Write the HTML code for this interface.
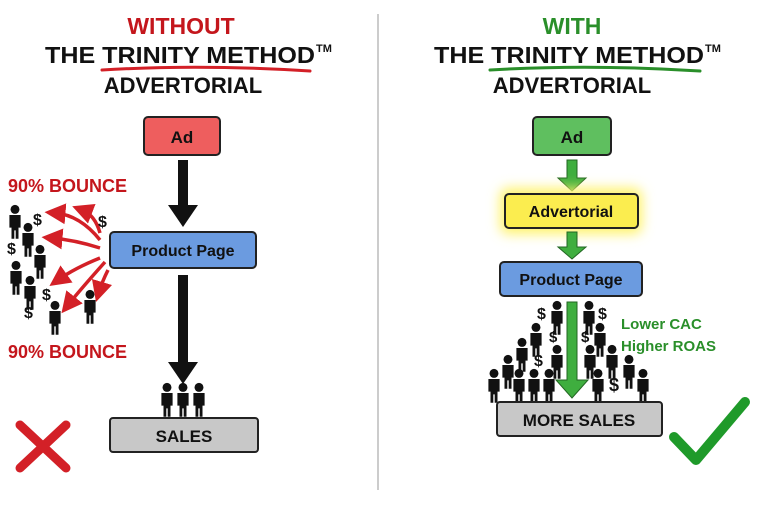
<!DOCTYPE html>
<html><head><style>
html,body{margin:0;padding:0;background:#fff;}
svg{display:block;}
text{font-family:"Liberation Sans",sans-serif;font-weight:bold;}
</style></head><body>
<svg width="768" height="512" viewBox="0 0 768 512" xmlns="http://www.w3.org/2000/svg">
<defs>
<g id="p" transform="scale(1.4)"><circle cx="0" cy="-9" r="3.2" fill="#111"/><path d="M-4,-5 h8 v9 h-1.5 v8 h-2 v-6 h-1 v6 h-2 v-8 h-1.5z" fill="#111"/></g>
<filter id="glow" x="-30%" y="-60%" width="160%" height="220%"><feGaussianBlur stdDeviation="6"/></filter>
<marker id="ra" markerWidth="6" markerHeight="6" refX="3" refY="3" orient="auto"><path d="M0,0 L6,3 L0,6z" fill="#d32027"/></marker>
</defs>
<rect width="768" height="512" fill="#fff"/>
<line x1="378" y1="14" x2="378" y2="490" stroke="#bbb" stroke-width="1.5"/>

<!-- LEFT -->
<text x="181" y="34" font-size="23" fill="#c4161c" text-anchor="middle">WITHOUT</text>
<text x="180" y="63" font-size="23" fill="#111" text-anchor="middle" textLength="270" lengthAdjust="spacingAndGlyphs">THE TRINITY METHOD</text>
<text x="316" y="52" font-size="11" fill="#111">TM</text>
<path d="M102,70 Q200,64 310,71" stroke="#d32027" stroke-width="3" fill="none" stroke-linecap="round"/>
<text x="183" y="93" font-size="22" fill="#111" text-anchor="middle">ADVERTORIAL</text>

<rect x="144" y="117" width="76" height="38" rx="4" fill="#ee5e5e" stroke="#222" stroke-width="2"/>
<text x="182" y="143" font-size="17" fill="#111" text-anchor="middle">Ad</text>
<rect x="178" y="160" width="10" height="50" fill="#111"/>
<path d="M168,205 L198,205 L183,227z" fill="#111"/>
<rect x="110" y="232" width="146" height="36" rx="4" fill="#6b9be0" stroke="#222" stroke-width="2"/>
<text x="183" y="256" font-size="16" fill="#111" text-anchor="middle">Product Page</text>
<rect x="178" y="275" width="10" height="90" fill="#111"/>
<path d="M168,362 L198,362 L183,384z" fill="#111"/>
<use href="#p" x="167" y="400"/><use href="#p" x="183" y="400"/><use href="#p" x="199" y="400"/>
<rect x="110" y="418" width="148" height="34" rx="3" fill="#c8c8c8" stroke="#222" stroke-width="2"/>
<text x="184" y="442" font-size="17" fill="#111" text-anchor="middle">SALES</text>
<path d="M20,425 L66,468 M66,425 L20,468" stroke="#d32027" stroke-width="9" stroke-linecap="round"/>

<text x="8" y="192" font-size="18" fill="#c4161c">90% BOUNCE</text>
<text x="8" y="358" font-size="18" fill="#c4161c">90% BOUNCE</text>
<g stroke="#d32027" stroke-width="3.5" fill="none" marker-end="url(#ra)">
<path d="M100,240 Q80,215 55,213"/>
<path d="M100,233 Q95,215 82,210"/>
<path d="M100,248 Q75,240 52,238"/>
<path d="M100,258 Q75,268 58,280"/>
<path d="M105,262 Q80,290 68,305"/>
<path d="M108,270 Q102,282 99,292"/>
</g>
<use href="#p" x="15" y="222"/><use href="#p" x="28" y="240"/><use href="#p" x="40" y="262"/>
<use href="#p" x="16" y="278"/><use href="#p" x="30" y="293"/><use href="#p" x="55" y="318"/>
<use href="#p" x="90" y="307"/>
<text x="33" y="225" font-size="16" fill="#111">$</text>
<text x="98" y="227" font-size="16" fill="#111">$</text>
<text x="7" y="254" font-size="16" fill="#111">$</text>
<text x="42" y="300" font-size="16" fill="#111">$</text>
<text x="24" y="318" font-size="16" fill="#111">$</text>

<!-- RIGHT -->
<text x="572" y="34" font-size="23" fill="#2a8f2a" text-anchor="middle">WITH</text>
<text x="569" y="63" font-size="23" fill="#111" text-anchor="middle" textLength="270" lengthAdjust="spacingAndGlyphs">THE TRINITY METHOD</text>
<text x="705" y="52" font-size="11" fill="#111">TM</text>
<path d="M490,70 Q590,64 700,71" stroke="#2a8f2a" stroke-width="3" fill="none" stroke-linecap="round"/>
<text x="572" y="93" font-size="22" fill="#111" text-anchor="middle">ADVERTORIAL</text>

<rect x="533" y="117" width="78" height="38" rx="4" fill="#5fbf5f" stroke="#222" stroke-width="2"/>
<text x="572" y="143" font-size="17" fill="#111" text-anchor="middle">Ad</text>
<path d="M567,160 h10 v18 h9 l-14,13 l-14,-13 h9z" fill="#3fae3f" stroke="#226622" stroke-width="1"/>
<rect x="500" y="188" width="142" height="46" rx="8" fill="#fff36a" filter="url(#glow)"/>
<rect x="505" y="194" width="133" height="34" rx="4" fill="#fbed4f" stroke="#222" stroke-width="2"/>
<text x="571" y="217" font-size="16" fill="#111" text-anchor="middle">Advertorial</text>
<path d="M567,232 h10 v15 h9 l-14,12 l-14,-12 h9z" fill="#3fae3f" stroke="#226622" stroke-width="1"/>
<rect x="500" y="262" width="142" height="34" rx="4" fill="#6b9be0" stroke="#222" stroke-width="2"/>
<text x="571" y="285" font-size="16" fill="#111" text-anchor="middle">Product Page</text>
<path d="M567,302 h10 v78 h11 l-16,18 l-16,-18 h11z" fill="#3fae3f" stroke="#226622" stroke-width="1"/>
<use href="#p" x="557" y="318"/><use href="#p" x="589" y="318"/><use href="#p" x="536" y="340"/>
<use href="#p" x="600" y="340"/><use href="#p" x="522" y="355"/><use href="#p" x="557" y="362"/>
<use href="#p" x="590" y="362"/><use href="#p" x="612" y="362"/><use href="#p" x="508" y="372"/>
<use href="#p" x="629" y="372"/><use href="#p" x="494" y="386"/><use href="#p" x="519" y="386"/>
<use href="#p" x="534" y="386"/><use href="#p" x="549" y="386"/><use href="#p" x="598" y="386"/>
<use href="#p" x="643" y="386"/>
<text x="537" y="319" font-size="16" fill="#111">$</text>
<text x="598" y="319" font-size="16" fill="#111">$</text>
<text x="549" y="342" font-size="15" fill="#111">$</text>
<text x="581" y="342" font-size="15" fill="#111">$</text>
<text x="534" y="366" font-size="16" fill="#111">$</text>
<text x="609" y="391" font-size="18" fill="#111">$</text>
<text x="621" y="329" font-size="15" fill="#2a8f2a">Lower CAC</text>
<text x="621" y="351" font-size="15" fill="#2a8f2a">Higher ROAS</text>
<rect x="497" y="402" width="165" height="34" rx="3" fill="#c8c8c8" stroke="#222" stroke-width="2"/>
<text x="579" y="426" font-size="17" fill="#111" text-anchor="middle">MORE SALES</text>
<path d="M674,437 L696,460 L745,402" stroke="#1f9a2a" stroke-width="10" fill="none" stroke-linecap="round" stroke-linejoin="round"/>
</svg>
</body></html>
